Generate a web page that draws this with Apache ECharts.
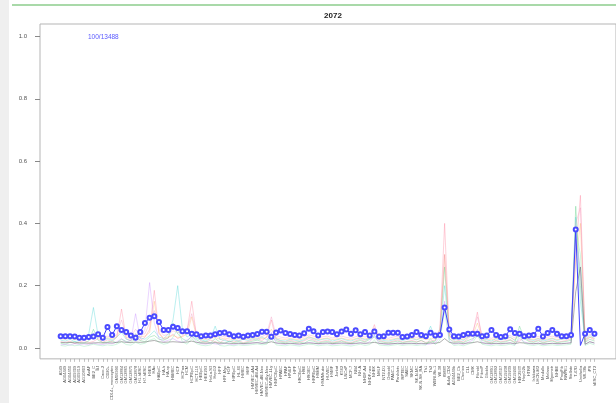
<!DOCTYPE html>
<html>
<head>
<meta charset="utf-8">
<script src="https://cdn.jsdelivr.net/npm/echarts@6/dist/echarts.min.js"></script>
<style>
  html, body { margin: 0; padding: 0; background: #ffffff; }
  #chart { width: 616px; height: 403px; }
</style>
</head>
<body>
<div id="chart"></div>
<script>
// Panel heading and counter
const chartTitle = '2072';
const countLabel = '100/13488';

// Sample names along the x axis
const sampleNames = [
  'A549','AG04449','AG04450','AG09309','AG09319','AG10803','AoAF','BE2_C','BJ','Caco-2',
  'CD20+','CD14+_monocytes','GM06990','GM12864','GM12865','GM12875','GM12878','H1-hESC','H7-hESC','H9ES',
  'HAc','HAEpiC','HA-h','HA-sp','HBMEC','HCF','HCFaa','HCM','HCPEpiC','HCT-116',
  'HEEpiC','HEK293','HeLa-S3','HepG2','HFF','HFF-Myc','HGF','HIPEpiC','HL-60','HMEC',
  'HMF','HMVEC-dAd','HMVEC-dBl-Ad','HMVEC-dBl-Neo','HMVEC-dLy-Neo','HMVEC-LLy','HNPCEpiC','HPAEC','HPAF','HPdLF',
  'HPF','HRCEpiC','HRE','HRGEC','HRPEpiC','HSMM','HSMMtube','HUVEC','HVMF','Jurkat',
  'K562','LNCaP','MCF-7','NB4','NH-A','NHDF-Ad','NHDF-neo','NHEK','NHLF','NT2-D1',
  'Osteobl','PANC-1','PanIslets','RPTEC','SAEC','SKMC','SK-N-MC','SK-N-SH_RA','Th1','Th2',
  'WERI-Rb-1','WI-38','8988T','Adult_CD4','AG04449b','BE2_Cb','Chorion','CLL','CMK','Fibrobl',
  'FibroP','Gliobla','GM12891','GM12892','GM18507','GM19238','GM19239','GM19240','HEK293T','HepG2b',
  'HTR8','Ishikawa','LHCN-M2','Medullo','Melano','Myometr','NHBE','ProgFib','RWPE1','Stellate',
  'T-47D','Urothelia','WI-38b','iPS','hESC_CT2'
];

// Highlighted profile (blue, with markers)
const meanTrace = [
  0.038,0.038,0.038,0.037,0.033,0.033,0.035,0.037,0.044,0.033,
  0.067,0.042,0.070,0.058,0.051,0.040,0.033,0.051,0.080,0.097,
  0.102,0.083,0.058,0.058,0.068,0.064,0.054,
  0.054,0.046,0.044,0.038,0.040,0.040,0.044,0.048,0.050,0.044,
  0.038,0.040,0.036,0.040,0.042,0.045,0.052,0.052,0.036,0.050,
  0.056,0.048,0.045,0.042,0.040,0.047,0.062,0.054,0.040,
  0.051,0.053,0.051,0.044,0.053,0.059,0.046,0.057,0.044,0.051,
  0.040,0.053,0.037,0.038,0.049,0.049,0.049,0.035,0.037,0.042,
  0.051,0.042,0.038,0.049,0.040,0.042,0.130,0.059,0.038,
  0.037,0.042,0.046,0.046,0.046,0.038,0.040,0.058,0.042,0.035,
  0.038,0.060,0.048,0.046,0.038,0.040,0.042,0.062,0.037,0.048,
  0.058,0.046,0.038,0.038,0.042,
  0.380,0.008,0.046,0.058,0.046
];
// Positions in meanTrace drawn without a marker
const unmarkedPoints = [111];

// Background profiles (faint)
const pinkTrace = [
  0.020,0.018,0.022,0.015,0.019,0.024,0.017,0.021,0.030,0.018,
  0.026,0.020,0.035,0.125,0.030,0.022,0.040,0.025,0.034,0.060,
  0.185,0.050,0.028,0.033,0.045,0.030,0.038,0.055,0.150,0.040,
  0.022,0.018,0.025,0.020,0.016,0.028,0.022,0.019,0.024,0.017,
  0.021,0.026,0.030,0.024,0.035,0.090,0.028,0.022,0.019,0.025,
  0.020,0.018,0.023,0.030,0.026,0.019,0.022,0.025,0.018,0.021,
  0.024,0.020,0.017,0.023,0.028,0.021,0.035,0.075,0.025,0.020,
  0.018,0.022,0.026,0.019,0.021,0.024,0.020,0.023,0.018,0.022,
  0.025,0.060,0.400,0.040,0.020,0.024,0.019,0.030,0.045,0.115,
  0.030,0.021,0.018,0.025,0.020,0.023,0.027,0.019,0.022,0.035,
  0.024,0.020,0.026,0.018,0.022,0.025,0.019,0.021,0.024,0.030,
  0.300,0.490,0.020,0.035,0.025
];
const greenTrace = [
  0.015,0.012,0.018,0.020,0.014,0.016,0.022,0.060,0.025,0.017,
  0.019,0.023,0.016,0.028,0.021,0.018,0.030,0.024,0.020,0.035,
  0.040,0.028,0.025,0.032,0.080,0.045,0.030,0.022,0.038,0.026,
  0.018,0.021,0.016,0.030,0.019,0.014,0.022,0.017,0.020,0.015,
  0.018,0.022,0.025,0.020,0.017,0.040,0.023,0.019,0.016,0.021,
  0.017,0.020,0.015,0.024,0.022,0.016,0.019,0.021,0.016,0.018,
  0.022,0.017,0.015,0.020,0.024,0.019,0.028,0.035,0.021,0.018,
  0.016,0.019,0.022,0.017,0.020,0.021,0.018,0.025,0.016,0.019,
  0.022,0.050,0.260,0.030,0.018,0.021,0.017,0.024,0.030,0.040,
  0.025,0.019,0.016,0.022,0.018,0.020,0.025,0.017,0.070,0.030,
  0.021,0.018,0.023,0.016,0.020,0.022,0.017,0.019,0.021,0.025,
  0.455,0.200,0.018,0.028,0.022
];
const cyanTrace = [
  0.025,0.022,0.028,0.020,0.024,0.030,0.045,0.130,0.040,0.026,
  0.030,0.025,0.035,0.050,0.028,0.024,0.045,0.032,0.028,0.040,
  0.055,0.035,0.030,0.045,0.090,0.200,0.060,0.035,0.045,0.030,
  0.026,0.022,0.030,0.070,0.028,0.024,0.020,0.026,0.022,0.028,
  0.024,0.030,0.028,0.035,0.026,0.045,0.030,0.024,0.022,0.028,
  0.025,0.022,0.026,0.035,0.030,0.024,0.028,0.030,0.022,0.026,
  0.030,0.025,0.022,0.028,0.032,0.026,0.030,0.040,0.028,0.024,
  0.022,0.026,0.030,0.024,0.028,0.030,0.026,0.032,0.035,0.070,
  0.030,0.045,0.200,0.050,0.025,0.030,0.024,0.035,0.040,0.050,
  0.032,0.026,0.022,0.030,0.026,0.028,0.035,0.024,0.050,0.032,
  0.028,0.024,0.030,0.022,0.026,0.030,0.024,0.028,0.030,0.035,
  0.420,0.150,0.025,0.040,0.030
];
const violetTrace = [
  0.010,0.012,0.009,0.014,0.011,0.013,0.010,0.016,0.012,0.011,
  0.015,0.013,0.020,0.030,0.018,0.025,0.110,0.030,0.060,0.210,
  0.080,0.030,0.020,0.025,0.030,0.022,0.018,0.026,0.035,0.020,
  0.014,0.012,0.016,0.013,0.011,0.015,0.012,0.010,0.014,0.012,
  0.013,0.016,0.018,0.014,0.020,0.050,0.016,0.013,0.011,0.015,
  0.012,0.010,0.014,0.018,0.016,0.012,0.013,0.015,0.011,0.013,
  0.015,0.012,0.010,0.014,0.017,0.013,0.020,0.040,0.015,0.012,
  0.011,0.013,0.016,0.012,0.014,0.015,0.012,0.014,0.011,0.013,
  0.016,0.035,0.150,0.025,0.012,0.015,0.011,0.018,0.025,0.060,
  0.018,0.013,0.011,0.015,0.012,0.014,0.017,0.011,0.030,0.020,
  0.014,0.012,0.016,0.011,0.013,0.015,0.012,0.013,0.015,0.018,
  0.350,0.250,0.012,0.020,0.015
];
const orangeTrace = [
  0.030,0.028,0.032,0.026,0.030,0.034,0.028,0.040,0.035,0.030,
  0.033,0.029,0.036,0.060,0.034,0.030,0.045,0.035,0.038,0.050,
  0.150,0.045,0.032,0.036,0.040,0.034,0.036,0.045,0.100,0.036,
  0.030,0.027,0.031,0.034,0.028,0.032,0.029,0.026,0.030,0.027,
  0.029,0.032,0.035,0.030,0.034,0.060,0.033,0.029,0.027,0.031,
  0.028,0.026,0.030,0.036,0.032,0.027,0.030,0.032,0.027,0.029,
  0.032,0.028,0.026,0.030,0.034,0.029,0.033,0.055,0.031,0.028,
  0.026,0.029,0.032,0.028,0.030,0.031,0.028,0.031,0.027,0.029,
  0.032,0.045,0.300,0.040,0.028,0.031,0.027,0.036,0.040,0.080,
  0.034,0.029,0.026,0.031,0.028,0.030,0.033,0.027,0.040,0.036,
  0.030,0.027,0.031,0.026,0.029,0.032,0.027,0.029,0.031,0.034,
  0.280,0.400,0.026,0.035,0.030
];
const mintTrace = [
  0.008,0.006,0.010,0.007,0.009,0.005,0.008,0.012,0.009,0.007,
  0.010,0.008,0.012,0.020,0.011,0.009,0.018,0.012,0.015,0.025,
  0.030,0.018,0.012,0.015,0.035,0.060,0.020,0.012,0.030,0.014,
  0.009,0.007,0.010,0.020,0.008,0.006,0.009,0.007,0.010,0.008,
  0.009,0.011,0.013,0.010,0.012,0.030,0.010,0.008,0.007,0.010,
  0.008,0.006,0.009,0.012,0.011,0.007,0.009,0.010,0.007,0.008,
  0.010,0.008,0.006,0.009,0.012,0.008,0.011,0.025,0.010,0.008,
  0.007,0.009,0.011,0.008,0.010,0.010,0.008,0.010,0.009,0.030,
  0.011,0.025,0.120,0.020,0.008,0.010,0.007,0.012,0.018,0.040,
  0.012,0.009,0.007,0.010,0.008,0.009,0.012,0.008,0.040,0.015,
  0.010,0.008,0.011,0.007,0.009,0.010,0.008,0.009,0.010,0.012,
  0.380,0.300,0.008,0.015,0.010
];
const roseTrace = [
  0.035,0.033,0.036,0.030,0.034,0.038,0.032,0.045,0.040,0.034,
  0.038,0.034,0.042,0.090,0.040,0.036,0.060,0.042,0.045,0.080,
  0.120,0.060,0.040,0.044,0.055,0.050,0.045,0.060,0.110,0.045,
  0.036,0.032,0.037,0.045,0.034,0.038,0.035,0.031,0.036,0.033,
  0.035,0.038,0.042,0.036,0.045,0.100,0.040,0.035,0.032,0.037,
  0.034,0.031,0.036,0.042,0.038,0.033,0.036,0.038,0.032,0.035,
  0.038,0.034,0.031,0.036,0.040,0.035,0.040,0.065,0.037,0.034,
  0.031,0.035,0.038,0.033,0.036,0.037,0.034,0.037,0.032,0.045,
  0.038,0.060,0.300,0.050,0.034,0.037,0.032,0.042,0.050,0.100,
  0.040,0.035,0.031,0.037,0.034,0.036,0.040,0.032,0.055,0.042,
  0.036,0.033,0.037,0.031,0.035,0.038,0.033,0.035,0.037,0.040,
  0.400,0.450,0.030,0.045,0.035
];
const greyTrace = [
  0.018,0.017,0.018,0.016,0.017,0.016,0.015,0.016,0.017,0.016,
  0.017,0.016,0.018,0.020,0.018,0.017,0.019,0.018,0.019,0.022,
  0.024,0.020,0.018,0.019,0.020,0.019,0.018,0.019,0.022,0.018,
  0.016,0.015,0.016,0.017,0.015,0.016,0.015,0.014,0.015,0.014,
  0.015,0.016,0.017,0.015,0.016,0.020,0.016,0.015,0.014,0.015,
  0.014,0.013,0.015,0.016,0.015,0.014,0.015,0.016,0.014,0.015,
  0.016,0.015,0.014,0.015,0.016,0.015,0.016,0.018,0.015,0.014,
  0.013,0.014,0.015,0.014,0.015,0.015,0.014,0.015,0.014,0.016,
  0.015,0.018,0.030,0.018,0.015,0.016,0.014,0.016,0.017,0.020,
  0.016,0.015,0.014,0.015,0.014,0.015,0.016,0.014,0.017,0.016,
  0.015,0.014,0.015,0.013,0.014,0.015,0.014,0.014,0.015,0.016,
  0.180,0.260,0.012,0.020,0.016
];

// Y axis tick values
const yTicks = [0, 0.2, 0.4, 0.6, 0.8, 1.0];

const sampleIndex = sampleNames.map((_, i) => i);
const toPoints = arr => arr.map((v, i) => [i, v]);

const faintProfiles = [
  { name: 'pink',   data: pinkTrace,   color: 'rgba(255,110,140,0.32)' },
  { name: 'green',  data: greenTrace,  color: 'rgba(60,200,110,0.32)' },
  { name: 'cyan',   data: cyanTrace,   color: 'rgba(60,210,210,0.35)' },
  { name: 'violet', data: violetTrace, color: 'rgba(190,120,255,0.32)' },
  { name: 'orange', data: orangeTrace, color: 'rgba(255,170,90,0.32)' },
  { name: 'mint',   data: mintTrace,   color: 'rgba(120,230,170,0.35)' },
  { name: 'rose',   data: roseTrace,   color: 'rgba(240,130,180,0.30)' },
  { name: 'grey',   data: greyTrace,   color: 'rgba(110,110,110,0.55)' }
];

const series = faintProfiles.map(p => ({
  name: p.name,
  type: 'line',
  data: toPoints(p.data),
  symbol: 'none',
  silent: true,
  lineStyle: { width: 1, color: p.color },
  z: 2
}));

series.push({
  name: 'mean',
  type: 'line',
  data: meanTrace.map((v, i) => unmarkedPoints.includes(i)
    ? { value: [i, v], symbol: 'none' }
    : [i, v]),
  symbol: 'emptyCircle',
  symbolSize: 4,
  lineStyle: { width: 1, color: '#4040ff' },
  itemStyle: { color: '#4a4aff', borderWidth: 1.1 },
  z: 5
});

const chart = echarts.init(document.getElementById('chart'), null, { renderer: 'canvas' });
chart.setOption({
  animation: false,
  backgroundColor: '#ffffff',
  grid: {
    left: 40, top: 24, width: 586, height: 338,
    show: true, borderColor: '#b5b5b5', borderWidth: 1
  },
  xAxis: {
    type: 'value',
    min: -4.41,
    max: 118.6,
    axisLine: { show: false, onZero: false },
    splitLine: { show: false },
    axisTick: {
      show: true, customValues: sampleIndex, length: 3,
      lineStyle: { color: '#9a9a9a', width: 0.6 }
    },
    axisLabel: {
      show: true, customValues: sampleIndex, rotate: 90,
      fontSize: 4, color: '#555555', margin: 7,
      fontFamily: 'Liberation Sans',
      formatter: v => sampleNames[v] || ''
    }
  },
  yAxis: {
    type: 'value',
    min: -0.035,
    max: 1.04,
    axisLine: { show: false, onZero: false },
    splitLine: { show: false },
    axisTick: {
      show: true, customValues: yTicks, length: 5,
      lineStyle: { color: '#888888' }
    },
    axisLabel: {
      show: true, customValues: yTicks, fontSize: 6, color: '#555555',
      margin: 13, fontFamily: 'Liberation Sans',
      formatter: v => v.toFixed(1)
    }
  },
  graphic: [
    { type: 'rect', shape: { x: 0, y: 0, width: 9, height: 403 }, style: { fill: '#efefef' }, z: 0 },
    { type: 'rect', shape: { x: 12, y: 4, width: 604, height: 2 }, style: { fill: '#a9d9a9' } },
    {
      type: 'text', x: 333, y: 16,
      style: {
        text: chartTitle, fill: '#222222', font: 'bold 8px "Liberation Sans"',
        textAlign: 'center', textVerticalAlign: 'middle'
      }
    },
    {
      type: 'text', x: 88, y: 37,
      style: {
        text: countLabel, fill: '#5a5aff', font: '6.5px "Liberation Sans"',
        textAlign: 'left', textVerticalAlign: 'middle'
      }
    }
  ],
  series: series
});
</script>
</body>
</html>
